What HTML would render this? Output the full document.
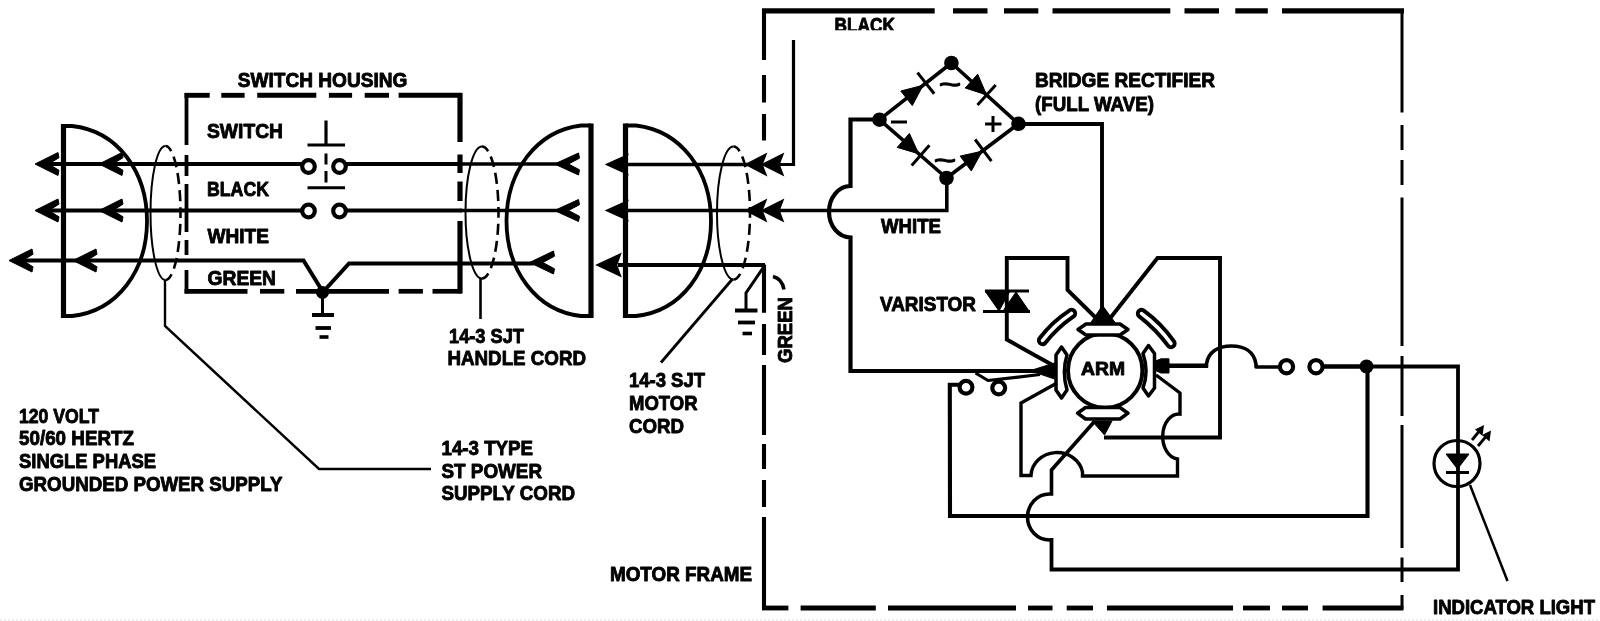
<!DOCTYPE html>
<html><head><meta charset="utf-8"><title>Wiring Diagram</title>
<style>
html,body{margin:0;padding:0;background:#fff;}
body{width:1600px;height:621px;overflow:hidden;font-family:"Liberation Sans",sans-serif;}
svg{display:block;}
svg text{font-family:"Liberation Sans",sans-serif;font-weight:bold;fill:#000;stroke:#000;stroke-width:0.9px;stroke-linejoin:round;}
</style></head>
<body>
<svg width="1600" height="621" viewBox="0 0 1600 621">
<defs><clipPath id="cb"><rect x="820" y="0" width="90" height="30.3"/></clipPath></defs>
<rect x="0" y="0" width="1600" height="621" fill="#fff"/>
<g fill="none" stroke="#000" stroke-linecap="butt">
<path d="M63.5,126 L72,126 C118,131 147,172 147,221 C147,270 118,311 72,316 L63.5,316" stroke-width="3.8" />
<path d="M63.5,124 L63.5,318" stroke-width="5.2" />
<path d="M38,164 L302,164" stroke-width="4" />
<path d="M38,210.5 L302,210.5" stroke-width="4" />
<path d="M12,260.5 L303.5,260.5 L323,292 L349,263.5 L534,263.5" stroke-width="4" />
<path d="M346,164 L462,164" stroke-width="4" />
<path d="M346,210.5 L462,210.5" stroke-width="4" />
<path d="M460,164 L559,164" stroke-width="3.5" />
<path d="M460,210.5 L559,210.5" stroke-width="3.5" />
<path d="M35,164 L58,152.5 L59,157.7 L48.7,164 L59,170.3 L58,175.5 Z" fill="#000" stroke-width="1" stroke-linejoin="round"/>
<path d="M99,164 L122,152.5 L123,157.7 L112.7,164 L123,170.3 L122,175.5 Z" fill="#000" stroke-width="1" stroke-linejoin="round"/>
<path d="M35,210.5 L58,199.0 L59,204.2 L48.7,210.5 L59,216.8 L58,222.0 Z" fill="#000" stroke-width="1" stroke-linejoin="round"/>
<path d="M99,210.5 L122,199.0 L123,204.2 L112.7,210.5 L123,216.8 L122,222.0 Z" fill="#000" stroke-width="1" stroke-linejoin="round"/>
<path d="M9,260.5 L32,249.0 L33,254.2 L22.7,260.5 L33,266.8 L32,272.0 Z" fill="#000" stroke-width="1" stroke-linejoin="round"/>
<path d="M73,260.5 L96,249.0 L97,254.2 L86.7,260.5 L97,266.8 L96,272.0 Z" fill="#000" stroke-width="1" stroke-linejoin="round"/>
<path d="M165.5,146 A15,67 0 0 0 165.5,280" stroke-width="2"/>
<path d="M165.5,146 A15,67 0 0 1 165.5,280" stroke-width="2.6" stroke-dasharray="11 6" stroke-dashoffset="-14"/>
<path d="M482,146.5 A16.5,66 0 0 0 482,278.5" stroke-width="2"/>
<path d="M482,146.5 A16.5,66 0 0 1 482,278.5" stroke-width="2.6" stroke-dasharray="11 6" stroke-dashoffset="-14"/>
<path d="M733.5,146.5 A16.5,66.5 0 0 0 733.5,279.5" stroke-width="2"/>
<path d="M733.5,146.5 A16.5,66.5 0 0 1 733.5,279.5" stroke-width="2.6" stroke-dasharray="11 6" stroke-dashoffset="-14"/>
<path d="M165,280 L165,326 L319,469 L431,469" stroke-width="2.4" />
<path d="M480.5,278 L480.5,319" stroke-width="2.6" />
<path d="M732.5,279 L661,362.5" stroke-width="2.8" />
<path d="M184.5,95.3 L209.7,95.3" stroke-width="4.9" />
<path d="M221.3,95.3 L244.6,95.3" stroke-width="4.9" />
<path d="M257.2,95.3 L316.3,95.3" stroke-width="4.9" />
<path d="M328.9,95.3 L352.1,95.3" stroke-width="4.9" />
<path d="M364.7,95.3 L389,95.3" stroke-width="4.9" />
<path d="M398.6,95.3 L462,95.3" stroke-width="4.9" />
<path d="M184.5,291.3 L247.5,291.3" stroke-width="4.7" />
<path d="M260,291.3 L284.3,291.3" stroke-width="4.7" />
<path d="M296,291.3 L389,291.3" stroke-width="4.7" />
<path d="M398.6,291.3 L422.9,291.3" stroke-width="4.7" />
<path d="M432.5,291.3 L462,291.3" stroke-width="4.7" />
<path d="M186.5,93 L186.5,145" stroke-width="3.8" />
<path d="M186.5,155 L186.5,176" stroke-width="3.8" />
<path d="M186.5,184 L186.5,232" stroke-width="3.8" />
<path d="M186.5,240 L186.5,255" stroke-width="3.8" />
<path d="M186.5,270 L186.5,293.3" stroke-width="3.8" />
<path d="M460,93 L460,142" stroke-width="5.2" />
<path d="M460,154.5 L460,173" stroke-width="5.2" />
<path d="M460,181.5 L460,201" stroke-width="5.2" />
<path d="M460,221 L460,293.3" stroke-width="5.2" />
<circle cx="308.5" cy="166.5" r="6.3" fill="#fff" stroke-width="4.2"/>
<circle cx="339.5" cy="166.5" r="6.3" fill="#fff" stroke-width="4.2"/>
<circle cx="308.5" cy="211" r="6.3" fill="#fff" stroke-width="4.2"/>
<circle cx="339.5" cy="211" r="6.3" fill="#fff" stroke-width="4.2"/>
<path d="M326,120.5 L326,145" stroke-width="3.2" />
<path d="M307.5,145 L345,145" stroke-width="3" />
<path d="M326,153.5 L326,164.5" stroke-width="3" />
<path d="M326,171 L326,182.5" stroke-width="3" />
<path d="M307.5,187.8 L345,187.8" stroke-width="3" />
<circle cx="322.5" cy="292.5" r="6.5" fill="#000" stroke="none"/>
<path d="M322.5,292 L322.5,315" stroke-width="3" />
<path d="M312,315 L334,315" stroke-width="4" />
<path d="M315.5,328 L331,328" stroke-width="3.8" />
<path d="M319.5,337 L328.5,337" stroke-width="3.6" />
<path d="M591,125.5 L581,125.5 C536,131 506.5,172 506.5,221 C506.5,270 536,311 581,316 L591,316" stroke-width="3.8" />
<path d="M591,123.5 L591,318" stroke-width="5.2" />
<path d="M554.5,164 L578.5,153 L579.5,158.2 L568.5,164 L579.5,169.8 L578.5,175 Z" fill="#000" stroke-width="1" stroke-linejoin="round"/>
<path d="M554.5,210.5 L578.5,199.5 L579.5,204.7 L568.5,210.5 L579.5,216.3 L578.5,221.5 Z" fill="#000" stroke-width="1" stroke-linejoin="round"/>
<path d="M529.5,262.5 L553.5,251.0 L554.5,256.2 L542.9,262.5 L554.5,268.8 L553.5,274.0 Z" fill="#000" stroke-width="1" stroke-linejoin="round"/>
<path d="M625.5,125.5 L636,125.5 C682,131 711,172 711,221 C711,270 682,311 636,316 L625.5,316" stroke-width="3.8" />
<path d="M625.5,123.5 L625.5,318" stroke-width="5.2" />
<path d="M606.5,164.5 L627.5,155.0 L623.5,164.5 L627.5,174.0 Z" fill="#000" stroke-width="1.5"/>
<path d="M606.5,210.5 L627.5,201.0 L623.5,210.5 L627.5,220.0 Z" fill="#000" stroke-width="1.5"/>
<path d="M597,265 L620.5,254 L616.5,265 L620.5,276 Z" fill="#000" stroke-width="1.5"/>
<path d="M625,164.5 L750,164.5" stroke-width="3.5" />
<path d="M625,210.5 L750,210.5" stroke-width="3.5" />
<path d="M618,265 L765,265" stroke-width="4" />
<path d="M746,164.5 L766,154.0 L762,164.5 L766,175.0 Z" fill="#000" stroke-width="1.5"/>
<path d="M762,164.5 L783,154.0 L779,164.5 L783,175.0 Z" fill="#000" stroke-width="1.5"/>
<path d="M746,210.5 L766,200.0 L762,210.5 L766,221.0 Z" fill="#000" stroke-width="1.5"/>
<path d="M762,210.5 L783,200.0 L779,210.5 L783,221.0 Z" fill="#000" stroke-width="1.5"/>
<path d="M780,164.5 L793.5,164.5 L793.5,40" stroke-width="3.2" />
<path d="M780,210.5 L946.8,210.5 L946.8,178" stroke-width="3.6" />
<path d="M765,265 L746,293 L746,310" stroke-width="3" />
<path d="M735,310.5 L757.5,310.5" stroke-width="4" />
<path d="M738,322.5 L755,322.5" stroke-width="3.8" />
<path d="M742.5,333.5 L752,333.5" stroke-width="3.6" />
<path d="M762,10.9 L934.7,10.9" stroke-width="5.2" />
<path d="M953,10.9 L987.5,10.9" stroke-width="5.2" />
<path d="M1004,10.9 L1038.3,10.9" stroke-width="5.2" />
<path d="M1052.5,10.9 L1170.3,10.9" stroke-width="5.2" />
<path d="M1184.5,10.9 L1219,10.9" stroke-width="5.2" />
<path d="M1235.3,10.9 L1267.8,10.9" stroke-width="5.2" />
<path d="M1282,10.9 L1404,10.9" stroke-width="5.2" />
<path d="M764,9 L764,60" stroke-width="4.1" />
<path d="M764,75 L764,102.5" stroke-width="4.1" />
<path d="M764,114 L764,140.5" stroke-width="4.1" />
<path d="M764,264.6 L764,312.8" stroke-width="4.1" />
<path d="M764,324 L764,355" stroke-width="4.1" />
<path d="M764,365 L764,435" stroke-width="4.1" />
<path d="M764,444 L764,469" stroke-width="4.1" />
<path d="M764,480 L764,507" stroke-width="4.1" />
<path d="M764,517 L764,609.5" stroke-width="4.1" />
<path d="M1402,9 L1402,112.5" stroke-width="3" />
<path d="M1402,125 L1402,150" stroke-width="3" />
<path d="M1402,160 L1402,185" stroke-width="3" />
<path d="M1402,197.5 L1402,346" stroke-width="3" />
<path d="M1402,356 L1402,416" stroke-width="3" />
<path d="M1402,425 L1402,548" stroke-width="3" />
<path d="M1402,557.5 L1402,582" stroke-width="3" />
<path d="M1402,595 L1402,609.5" stroke-width="3" />
<path d="M762,608 L788.4,608" stroke-width="4.8" />
<path d="M800.6,608 L875.8,608" stroke-width="4.8" />
<path d="M888,608 L1016,608" stroke-width="4.8" />
<path d="M1028,608 L1052.5,608" stroke-width="4.8" />
<path d="M1066.7,608 L1093,608" stroke-width="4.8" />
<path d="M1107,608 L1233,608" stroke-width="4.8" />
<path d="M1243,608 L1270,608" stroke-width="4.8" />
<path d="M1282,608 L1308,608" stroke-width="4.8" />
<path d="M1322.6,608 L1403.4,608" stroke-width="4.8" />
<path d="M879.5,119.7 L951.4,63 L1018.5,123.8 L946.5,178 L879.5,119.7" stroke-width="3.6" stroke-linejoin="round"/>
<circle cx="951.4" cy="63" r="7.3" fill="#000" stroke="none"/>
<circle cx="879.5" cy="119.7" r="7.3" fill="#000" stroke="none"/>
<circle cx="1018.5" cy="123.8" r="7.3" fill="#000" stroke="none"/>
<circle cx="946.5" cy="178" r="7.3" fill="#000" stroke="none"/>
<path d="M912.3,105.6 L923.1,85.3 L900.8,91.0 Z" fill="#000" stroke-width="1"/>
<path d="M934.2,93.8 L917.5,72.6" stroke-width="3"/>
<path d="M965.2,88.0 L986.6,94.9 L977.7,74.2 Z" fill="#000" stroke-width="1"/>
<path d="M977.5,104.9 L995.7,84.9" stroke-width="3"/>
<path d="M897.2,147.4 L918.7,153.8 L909.4,133.4 Z" fill="#000" stroke-width="1"/>
<path d="M911.7,165.6 L929.4,145.2" stroke-width="3"/>
<path d="M971.3,171.0 L982.1,151.2 L960.1,156.1 Z" fill="#000" stroke-width="1"/>
<path d="M991.4,161.1 L975.1,139.5" stroke-width="3"/>
<path d="M879.5,119.5 L850.5,119.5 L850.5,186 A21.5,25.75 0 0 0 850.5,237.5 L850.5,371 L1040,371" stroke-width="4.2" stroke-linejoin="miter"/>
<path d="M1018.5,124 L1102,124 L1102,318" stroke-width="3.9" />
<path d="M1056,367 L1006.8,339.5 L1006.8,258 L1067.5,258 L1067.5,290 L1096,318" stroke-width="3.9" />
<path d="M1109.5,319 L1157.5,258 L1220,258 L1220,437.5 L1104,437.5" stroke-width="3.9" />
<path d="M985,291 L1010,291 L999,311 Z" fill="#000" stroke-width="1"/>
<path d="M1003,311 L1029,311 L1016,292 Z" fill="#000" stroke-width="1"/>
<path d="M985,291 L1029,291" stroke-width="3" />
<path d="M983,311.5 L1030,311.5" stroke-width="3" />
<circle cx="1105.2" cy="370.5" r="37.2" fill="#fff" stroke-width="4"/>
<path d="M1102.5,305.5 L1089.5,324.5 L1116.5,324.5 Z" fill="#000" stroke-width="1"/>
<path d="M1030,370.7 L1056,362.5 L1056,379.5 Z" fill="#000" stroke-width="1"/>
<path d="M1155.5,361 L1161,358.8 L1169,358.8 L1169,373 L1161,373 L1155.5,370.5 Z" fill="#000" stroke-width="1" stroke-linejoin="round"/>
<path d="M1092,421 L1112,421 L1104.5,435 Z" fill="#000" stroke-width="1"/>
<path d="M1078,329.5 L1086,324 L1120,324 L1128,329.5 L1120,335 L1086,335 Z" fill="#fff" stroke-width="3.5" stroke-linejoin="round"/>
<path d="M1077.5,413.2 L1085.5,407.5 L1120,407.5 L1128,413.2 L1120,419 L1085.5,419 Z" fill="#fff" stroke-width="3.5" stroke-linejoin="round"/>
<path d="M1061.5,347 L1056,355 L1056,390 L1061.5,398 L1067,390 C1063.5,378 1063.5,366 1067,355 Z" fill="#fff" stroke-width="3.5" stroke-linejoin="round"/>
<path d="M1148.5,345.5 L1154.5,353.5 L1154.5,388 L1148.5,396 L1143,388 C1147,377 1147,365 1143,353.5 Z" fill="#fff" stroke-width="3.5" stroke-linejoin="round"/>
<g transform="translate(1042.5,340.5) rotate(-43.0)"><path d="M0,3.7 Q19.81161275615895,0.7000000000000002 39.6232255123179,3.7 A3.7,3.7 0 0 0 39.6232255123179,-3.7 Q19.81161275615895,-7.2 0,-3.7 A3.7,3.7 0 0 0 0,3.7 Z" fill="#fff" stroke-width="3.9" stroke-linejoin="round"/></g>
<g transform="translate(1141.5,313.5) rotate(45.5)"><path d="M0,3.7 Q21.037169486411425,0.7000000000000002 42.07433897282285,3.7 A3.7,3.7 0 0 0 42.07433897282285,-3.7 Q21.037169486411425,-7.2 0,-3.7 A3.7,3.7 0 0 0 0,3.7 Z" fill="#fff" stroke-width="3.9" stroke-linejoin="round"/></g>
<path d="M1166,365.8 L1208,365.8" stroke-width="4.4" />
<path d="M1206.5,367.5 L1206.5,364 C1208,352 1218,346 1231.5,346 C1245,346 1254,352 1256,364 L1256,367 L1280,367" stroke-width="3.6" stroke-linejoin="round"/>
<circle cx="1286.5" cy="366.7" r="6.6" fill="#fff" stroke-width="4.2"/>
<circle cx="1316" cy="366.7" r="6.6" fill="#fff" stroke-width="4.2"/>
<path d="M1323,366.5 L1368,366.5" stroke-width="4.6" />
<path d="M1366,366.5 L1458,366.5 L1458,569.5 L1051.5,569.5 L1051.5,538" stroke-width="3.8" />
<path d="M1051.5,540 L1049.5,540 A22,23 0 0 1 1049.5,494 L1051.5,494 L1051.5,470 L1094,422" stroke-width="3.6" />
<circle cx="1366.5" cy="366.5" r="7" fill="#000" stroke="none"/>
<path d="M1367.5,366 L1367.5,516 L950,516 L949.8,384.8 L959,384.8" stroke-width="4.1" />
<circle cx="966" cy="387.3" r="6.4" fill="#fff" stroke-width="4.2"/>
<circle cx="998.7" cy="388" r="6.4" fill="#fff" stroke-width="4.2"/>
<path d="M975.5,373 L988,380.5 L1040,374.5" stroke-width="3.2" stroke-linejoin="round"/>
<path d="M1057,383 L1021,403 L1021,475.5 L1031,475.5 A26,24 0 0 1 1082.5,472 L1082.5,476 L1177.5,476 L1177.5,459 A16,22.5 0 0 1 1180,414 L1180,393 L1156,375" stroke-width="3.4" stroke-linejoin="miter"/>
<circle cx="1457" cy="463.5" r="23" fill="none" stroke-width="3.2"/>
<path d="M1446,454 L1469,454 L1457.5,469 Z" fill="#000" stroke-width="1"/>
<path d="M1446,472.5 L1469,472.5" stroke-width="3" />
<path d="M1470,485 L1507.5,581" stroke-width="2.5" />
<path d="M1472,440 L1479,431.5" stroke-width="2.8" />
<path d="M1478,446 L1486,436.5" stroke-width="2.8" />
<path d="M1484,425 L1475,429.5 L1482.5,436 Z" fill="#000" stroke="none"/>
<path d="M1491,430.5 L1482,435 L1489.5,441.5 Z" fill="#000" stroke="none"/>
<path d="M773,276.5 Q782,278.5 784,289.5" stroke-width="3.6" />
<path d="M0,620 L1600,620" stroke="#ddd" stroke-width="1" stroke-dasharray="2 2"/>
<path d="M891,122 L907,122" stroke-width="3"/>
<path d="M985,124 L1001.5,124 M993,116 L993,132" stroke-width="3"/>
</g>
<g opacity="0.999">
<text x="237.8" y="86.6" font-size="20" textLength="169.59999999999997" lengthAdjust="spacingAndGlyphs" >SWITCH HOUSING</text>
<text x="207" y="137.5" font-size="20" textLength="76" lengthAdjust="spacingAndGlyphs" >SWITCH</text>
<text x="207" y="195.5" font-size="20" textLength="62" lengthAdjust="spacingAndGlyphs" >BLACK</text>
<text x="207.5" y="243" font-size="20" textLength="61.5" lengthAdjust="spacingAndGlyphs" >WHITE</text>
<text x="207.5" y="285" font-size="20" textLength="68.5" lengthAdjust="spacingAndGlyphs" >GREEN</text>
<text x="449" y="342.5" font-size="20" textLength="75" lengthAdjust="spacingAndGlyphs" >14-3 SJT</text>
<text x="447.5" y="365" font-size="20" textLength="138.5" lengthAdjust="spacingAndGlyphs" >HANDLE CORD</text>
<text x="629" y="387" font-size="20" textLength="76" lengthAdjust="spacingAndGlyphs" >14-3 SJT</text>
<text x="629" y="410" font-size="20" textLength="68.5" lengthAdjust="spacingAndGlyphs" >MOTOR</text>
<text x="629" y="432.5" font-size="20" textLength="55" lengthAdjust="spacingAndGlyphs" >CORD</text>
<text x="441.5" y="455" font-size="20" textLength="91.5" lengthAdjust="spacingAndGlyphs" >14-3 TYPE</text>
<text x="441.5" y="477.5" font-size="20" textLength="100.5" lengthAdjust="spacingAndGlyphs" >ST POWER</text>
<text x="441.5" y="500" font-size="20" textLength="133.5" lengthAdjust="spacingAndGlyphs" >SUPPLY CORD</text>
<text x="19" y="422.5" font-size="20" textLength="80" lengthAdjust="spacingAndGlyphs" >120 VOLT</text>
<text x="19" y="445" font-size="20" textLength="115" lengthAdjust="spacingAndGlyphs" >50/60 HERTZ</text>
<text x="19" y="467.5" font-size="20" textLength="137" lengthAdjust="spacingAndGlyphs" >SINGLE PHASE</text>
<text x="19" y="490.5" font-size="20" textLength="263.5" lengthAdjust="spacingAndGlyphs" >GROUNDED POWER SUPPLY</text>
<text x="610" y="580.5" font-size="20" textLength="142" lengthAdjust="spacingAndGlyphs" >MOTOR FRAME</text>
<text x="834.5" y="32.3" font-size="20.5" textLength="60.5" lengthAdjust="spacingAndGlyphs" clip-path="url(#cb)">BLACK</text>
<text x="1035" y="87.2" font-size="20" textLength="180" lengthAdjust="spacingAndGlyphs" >BRIDGE RECTIFIER</text>
<text x="1035" y="111" font-size="20" textLength="119" lengthAdjust="spacingAndGlyphs" >(FULL WAVE)</text>
<text x="881" y="232.5" font-size="20" textLength="60" lengthAdjust="spacingAndGlyphs" >WHITE</text>
<text x="880" y="310.5" font-size="20" textLength="96" lengthAdjust="spacingAndGlyphs" >VARISTOR</text>
<text x="1081" y="375.3" font-size="18.5" textLength="44" lengthAdjust="spacingAndGlyphs" >ARM</text>
<text x="1433" y="614" font-size="20" textLength="162" lengthAdjust="spacingAndGlyphs" >INDICATOR LIGHT</text>
<text transform="translate(792.3,363) rotate(-90)" x="0" y="0" font-size="20.5" textLength="66" lengthAdjust="spacingAndGlyphs">GREEN</text>
<text x="939" y="92.5" font-size="26" textLength="22" lengthAdjust="spacingAndGlyphs" style="font-weight:normal;stroke-width:1.3px">~</text>
<text x="934" y="168.5" font-size="26" textLength="22" lengthAdjust="spacingAndGlyphs" style="font-weight:normal;stroke-width:1.3px">~</text>
</g>
</svg>
</body></html>
